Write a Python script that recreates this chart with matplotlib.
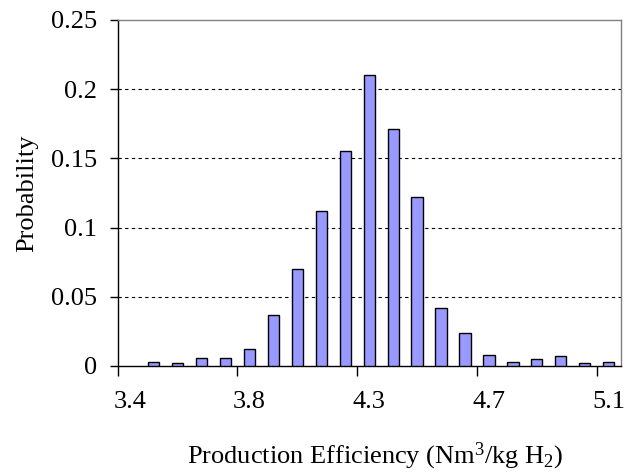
import matplotlib
matplotlib.use("Agg")
import matplotlib.pyplot as plt
import numpy as np

categories = ["3.4", "3.5", "3.6", "3.7", "3.7", "3.8", "3.9", "4.0", "4.1", "4.2",
              "4.3", "4.3", "4.4", "4.5", "4.6", "4.7", "4.8", "4.9", "4.9", "5.0", "5.1"]
probability = [0.0, 0.003, 0.002, 0.006, 0.006, 0.012, 0.037, 0.070, 0.112, 0.155,
               0.210, 0.171, 0.122, 0.042, 0.024, 0.008, 0.003, 0.005, 0.007, 0.002, 0.003]
shown_labels = {0: "3.4", 5: "3.8", 10: "4.3", 15: "4.7", 20: "5.1"}
y_ticks = [0, 0.05, 0.1, 0.15, 0.2, 0.25]
y_tick_labels = ["0", "0.05", "0.1", "0.15", "0.2", "0.25"]

plt.rcParams['font.family'] = ['Liberation Serif', 'DejaVu Serif']
plt.rcParams['mathtext.fontset'] = 'custom'
plt.rcParams['mathtext.rm'] = 'Liberation Serif'
plt.rcParams['mathtext.it'] = 'Liberation Serif:italic'
plt.rcParams['mathtext.bf'] = 'Liberation Serif:bold'

FS = 19

fig = plt.figure(figsize=(6.3, 4.76), dpi=100)
ax = fig.add_axes([0.1868, 0.2311, 0.7984, 0.7269])

x = np.arange(len(categories))
lws = [1.0 if p > 0 else 0.0 for p in probability]
ax.bar(x, probability, width=0.47, color="#9999FF", edgecolor="black", linewidth=lws, zorder=3)

ax.set_xlim(-0.5, len(categories) - 0.5)
ax.set_ylim(0, 0.25)

# gridlines
for yv in y_ticks[1:-1]:
    ax.axhline(yv, color="black", linestyle=(0, (3, 3)), linewidth=0.8, zorder=1)

ax.set_yticks(y_ticks)
ax.set_yticklabels(y_tick_labels, fontsize=FS)
ax.tick_params(axis="y", direction="out", length=6, width=1, pad=9)

ax.set_xticks(list(shown_labels.keys()))
ax.set_xticklabels(list(shown_labels.values()), fontsize=FS)
ax.tick_params(axis="x", which="major", length=0, pad=18)
ax.set_xticks(np.arange(-0.5, len(categories), 5), minor=True)
ax.tick_params(axis="x", which="minor", direction="out", length=7, width=1)

for s in ["top", "right"]:
    ax.spines[s].set_color("#808080")
    ax.spines[s].set_linewidth(1.0)
for s in ["left", "bottom"]:
    ax.spines[s].set_color("black")
    ax.spines[s].set_linewidth(1.0)

ax.set_ylabel("Probability", fontsize=FS, labelpad=9)
ax.set_xlabel("Production Efficiency (Nm$^3$/kg H$_2$)", fontsize=FS, labelpad=20)
ax.xaxis.set_label_coords(0.512, -0.215)
ax.xaxis.label.set_va("top")

fig.savefig("out.png", dpi=100)
